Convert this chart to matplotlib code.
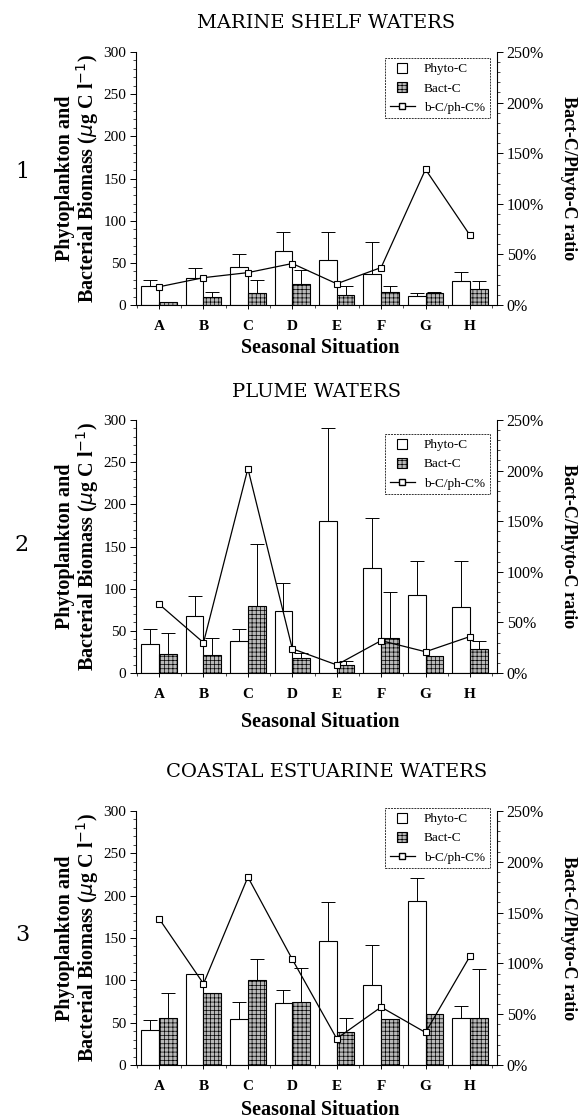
import matplotlib
matplotlib.use("Agg")
import matplotlib.pyplot as plt
import numpy as np
from matplotlib.ticker import MultipleLocator, FuncFormatter
from matplotlib.lines import Line2D
from matplotlib.patches import Patch, Rectangle
from matplotlib.legend_handler import HandlerPatch

plt.rcParams['font.family'] = ['Liberation Serif', 'DejaVu Serif']
plt.rcParams['hatch.linewidth'] = 0.5

categories = ['A', 'B', 'C', 'D', 'E', 'F', 'G', 'H']

titles = ['MARINE SHELF WATERS', 'PLUME WATERS', 'COASTAL ESTUARINE WATERS']
panel_numbers = ['1', '2', '3']
legend_labels = ['Phyto-C', 'Bact-C', 'b-C/ph-C%']

# Panel 1: marine shelf waters
phyto1 = [22, 32, 45, 64, 53, 37, 11, 28]
phyto1_err = [8, 12, 15, 22, 33, 38, 3, 11]
bact1 = [3, 9, 14, 25, 12, 15, 14, 19]
bact1_err = [0, 6, 16, 17, 11, 8, 1, 9]
ratio1 = [18, 27, 32, 41, 21, 37, 134, 69]

# Panel 2: plume waters
phyto2 = [34, 67, 38, 74, 180, 125, 92, 78]
phyto2_err = [18, 24, 14, 33, 111, 59, 41, 55]
bact2 = [23, 21, 80, 18, 10, 42, 20, 28]
bact2_err = [25, 20, 73, 6, 4, 54, 0, 10]
ratio2 = [68, 30, 202, 24, 8, 32, 21, 36]

# Panel 3: coastal estuarine waters
phyto3 = [41, 108, 54, 73, 146, 95, 194, 55]
phyto3_err = [12, 0, 20, 16, 47, 47, 27, 15]
bact3 = [56, 85, 100, 75, 39, 54, 60, 56]
bact3_err = [29, 0, 25, 39, 17, 0, 0, 57]
ratio3 = [144, 80, 185, 104, 26, 57, 32, 107]

panels = [
    (phyto1, phyto1_err, bact1, bact1_err, ratio1),
    (phyto2, phyto2_err, bact2, bact2_err, ratio2),
    (phyto3, phyto3_err, bact3, bact3_err, ratio3),
]

W, H = 579, 1120
fig = plt.figure(figsize=(W / 100, H / 100), dpi=100)

# pixel boxes: (top, bottom) of each axes, title y, number y, xlabel y
boxes = [(52, 305, 23, 172, 348), (420, 673, 392, 545, 722), (811, 1065, 772, 935, 1110)]
left_px, right_px = 136, 497
title_x = [326, 317, 327]
legend_anchor_y = [0.976, 0.945, 1.012]

bact_face = '#b8b8b8'
w = 0.4
x = np.arange(len(categories))


def square_patch(legend, orig_handle, xdescent, ydescent, width, height, fontsize):
    s = height * 1.0
    cx = width / 2 - xdescent
    p = Rectangle((cx - s / 2, -ydescent + (height - s) / 2), s, s)
    p.update_from(orig_handle)
    return p


for i, ((ph, phe, ba, bae, ra), (top, bot, ty, ny, xly)) in enumerate(zip(panels, boxes)):
    ax = fig.add_axes([left_px / W, 1 - bot / H, (right_px - left_px) / W, (bot - top) / H])
    ekw = dict(ecolor='black', elinewidth=0.7, capsize=5, capthick=0.7)
    ax.bar(x - w / 2, ph, width=w, color='white', edgecolor='black', linewidth=0.8,
           yerr=[np.zeros(len(ph)), phe], error_kw=ekw, zorder=2)
    ax.bar(x + w / 2, ba, width=w, color=bact_face, edgecolor='black', linewidth=0.8, hatch='++++',
           yerr=[np.zeros(len(ba)), bae], error_kw=ekw, zorder=2)
    ax.set_xlim(-0.52, 7.61)
    ax.set_ylim(0, 300)
    ax.yaxis.set_major_locator(MultipleLocator(50))
    ax.yaxis.set_minor_locator(MultipleLocator(10))
    ax.set_xticks(x)
    ax.set_xticks(np.arange(-0.5, 8, 1.0), minor=True)
    ax.set_xticklabels(categories, fontsize=11, fontweight='bold')
    ax.tick_params(axis='x', which='major', length=3, width=0.7, pad=8)
    ax.tick_params(axis='x', which='minor', length=2, width=0.5)
    ax.tick_params(axis='y', which='major', length=4, width=0.7, labelsize=11, pad=3)
    ax.tick_params(axis='y', which='minor', length=2, width=0.5)
    ax.spines['top'].set_visible(False)
    ax.spines['right'].set_visible(False)
    for s in ['left', 'bottom']:
        ax.spines[s].set_linewidth(0.8)

    ax2 = ax.twinx()
    ax2.plot(x, ra, color='black', linewidth=0.9, marker='s', markersize=4,
             markerfacecolor='white', markeredgecolor='black', markeredgewidth=0.8, zorder=5)
    ax2.set_ylim(0, 250)
    ax2.yaxis.set_major_locator(MultipleLocator(50))
    ax2.yaxis.set_minor_locator(MultipleLocator(10))
    ax2.yaxis.set_major_formatter(FuncFormatter(lambda v, p: f'{int(v)}%'))
    ax2.tick_params(axis='y', which='major', length=4, width=0.7, labelsize=11.5, pad=3)
    ax2.tick_params(axis='y', which='minor', length=2, width=0.5)
    ax2.spines['top'].set_visible(False)
    ax2.spines['left'].set_visible(False)
    ax2.spines['bottom'].set_visible(False)
    ax2.spines['right'].set_linewidth(0.8)

    h_phyto = Patch(facecolor='white', edgecolor='black', linewidth=0.8)
    h_bact = Patch(facecolor=bact_face, edgecolor='black', linewidth=0.8, hatch='++++')
    h_line = Line2D([0], [0], color='black', linewidth=0.9, marker='s', markersize=4,
                    markerfacecolor='white', markeredgecolor='black')
    leg = ax2.legend([h_phyto, h_bact, h_line], legend_labels, loc='upper right',
                     bbox_to_anchor=(0.98, legend_anchor_y[i]), fontsize=9.5, frameon=True,
                     fancybox=False, edgecolor='black', handlelength=1.9, handleheight=0.8,
                     borderpad=0.35, labelspacing=0.5, handletextpad=0.7, borderaxespad=0.0,
                     handler_map={Patch: HandlerPatch(patch_func=square_patch)})
    leg.get_frame().set_linewidth(0.7)
    leg.get_frame().set_linestyle((0, (2, 1)))

    fig.text(title_x[i] / W, 1 - ty / H, titles[i], ha='center', va='center', fontsize=14,
             family=['DejaVu Serif'])
    fig.text(22 / W, 1 - ny / H, panel_numbers[i], ha='center', va='center', fontsize=16,
             family=['DejaVu Serif'])
    fig.text(320 / W, 1 - xly / H, 'Seasonal Situation', ha='center', va='center',
             fontsize=14.5, fontweight='bold')
    ycen = 1 - ((top + bot) / 2) / H
    fig.text(78 / W, ycen, 'Phytoplankton and\nBacterial Biomass ($\\mu$g C l$^{-1}$)',
             ha='center', va='center', rotation=90, fontsize=14.5, fontweight='bold',
             linespacing=0.95)
    fig.text(568 / W, ycen, 'Bact-C/Phyto-C ratio', ha='center', va='center', rotation=270,
             fontsize=13, fontweight='bold')

fig.savefig('out.png', dpi=100)
